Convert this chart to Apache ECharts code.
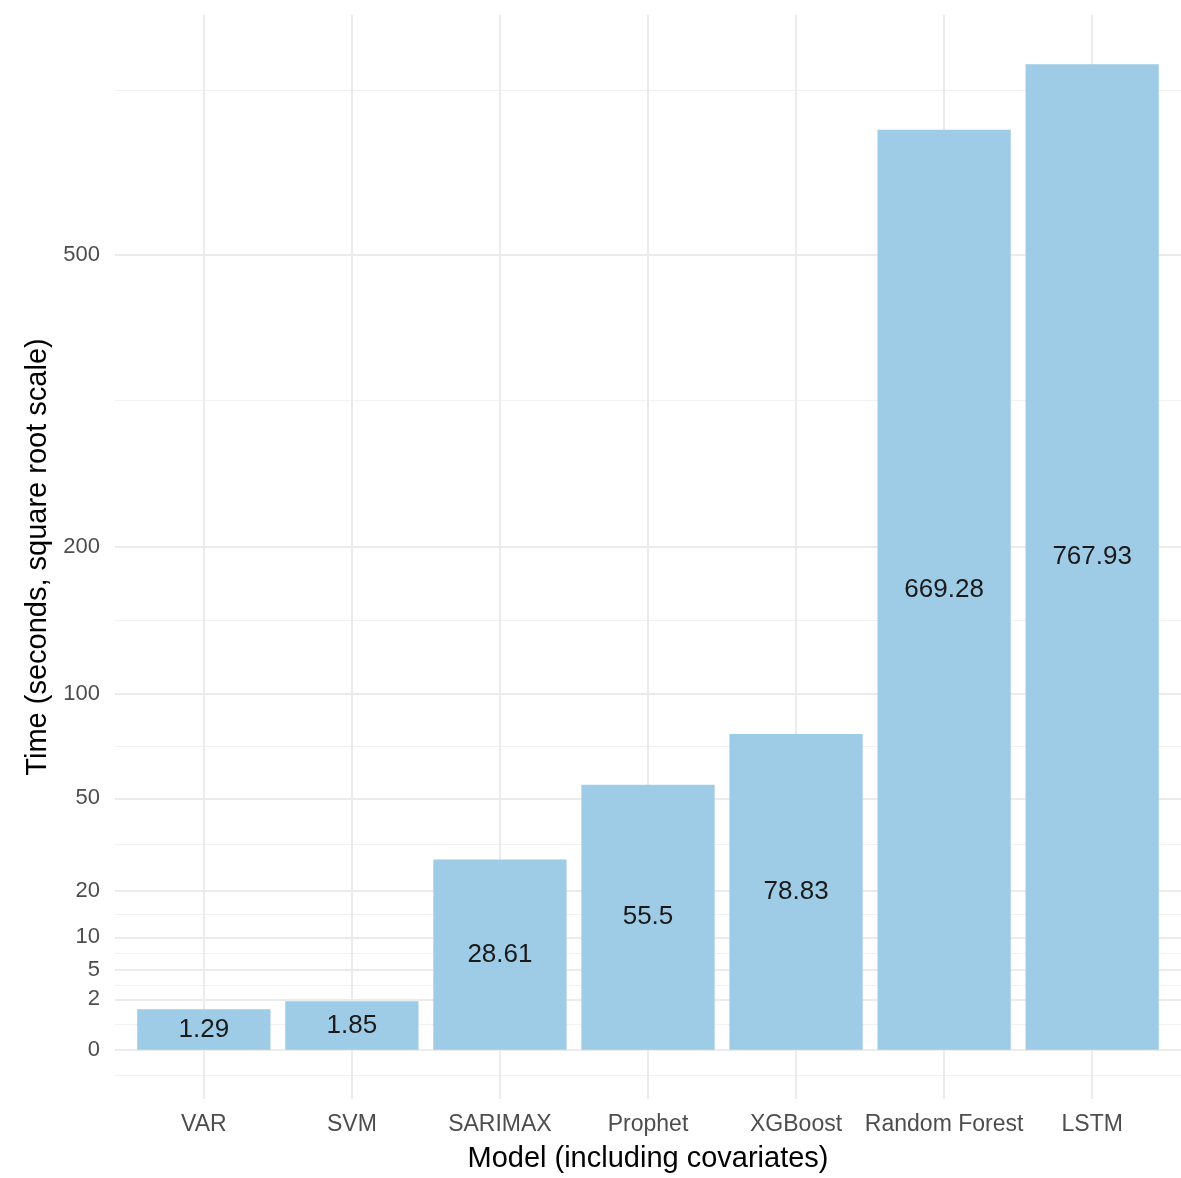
<!DOCTYPE html>
<html>
<head>
<meta charset="utf-8">
<script src="https://cdn.jsdelivr.net/npm/echarts@6/dist/echarts.min.js"></script>
<style>
  html, body { margin: 0; padding: 0; background: #fff; }
  #main { width: 1181px; height: 1178px; }
</style>
</head>
<body>
<div id="main"></div>
<script>
var models = ['VAR', 'SVM', 'SARIMAX', 'Prophet', 'XGBoost', 'Random Forest', 'LSTM'];
var times = [1.29, 1.85, 28.61, 55.5, 78.83, 669.28, 767.93];
var yBreaks = [0, 2, 5, 10, 20, 50, 100, 200, 500];
// one break outside on each side, only used for the minor grid midpoints
var yBreaksOuter = [-2, 1000];

function sq(v) { return v < 0 ? -Math.sqrt(-v) : Math.sqrt(v); }

var ext = [yBreaksOuter[0]].concat(yBreaks, [yBreaksOuter[1]]);
var minorPos = [];
for (var i = 0; i < ext.length - 1; i++) {
    minorPos.push((sq(ext[i]) + sq(ext[i + 1])) / 2);
}

var maxSq = Math.sqrt(Math.max.apply(null, times));
var pad = maxSq * 0.05;
var font = 'Liberation Sans, Arial, sans-serif';

var myChart = echarts.init(document.getElementById('main'));

let option = {
    backgroundColor: '#ffffff',
    animation: false,
    grid: { left: 115, width: 1070, top: 15, bottom: 74 },
    xAxis: {
        type: 'value',
        min: 0.4,
        max: 7.6,
        name: 'Model (including covariates)',
        nameLocation: 'middle',
        nameGap: 45,
        nameTextStyle: { color: '#000', fontSize: 29, fontFamily: font },
        axisLine: { show: false },
        axisTick: { show: false, customValues: [1, 2, 3, 4, 5, 6, 7] },
        axisLabel: {
            customValues: [1, 2, 3, 4, 5, 6, 7],
            formatter: function (v) { return models[Math.round(v) - 1]; },
            color: '#4D4D4D',
            fontSize: 23,
            fontFamily: font,
            margin: 14
        },
        splitLine: { show: true, lineStyle: { color: '#EBEBEB', width: 2 } }
    },
    yAxis: [
        {
            type: 'value',
            min: -pad,
            max: maxSq + pad,
            name: 'Time (seconds, square root scale)',
            nameLocation: 'middle',
            nameGap: 62,
            nameTextStyle: { color: '#000', fontSize: 29, fontFamily: font },
            axisLine: { show: false },
            axisTick: { show: false, customValues: yBreaks.map(sq) },
            axisLabel: {
                customValues: yBreaks.map(sq),
                formatter: function (v) { return String(Math.round(v * v)); },
                color: '#4D4D4D',
                fontSize: 22,
                fontFamily: font,
                margin: 15
            },
            splitLine: { show: true, lineStyle: { color: '#EBEBEB', width: 2 } }
        },
        {
            type: 'value',
            min: -pad,
            max: maxSq + pad,
            axisLine: { show: false },
            axisTick: { show: false, customValues: minorPos },
            axisLabel: { show: false },
            splitLine: { show: true, lineStyle: { color: '#F1F1F1', width: 1.2 } }
        }
    ],
    series: [
        {
            type: 'bar',
            yAxisIndex: 0,
            barWidth: '90%',
            data: times.map(function (t, i) { return [i + 1, Math.sqrt(t)]; }),
            itemStyle: { color: '#9ECBE6' },
            label: {
                show: true,
                position: 'inside',
                formatter: function (p) { return String(times[p.dataIndex]); },
                color: '#1A1A1A',
                fontSize: 26,
                fontFamily: font
            }
        }
    ]
};

myChart.setOption(option);
</script>
</body>
</html>
